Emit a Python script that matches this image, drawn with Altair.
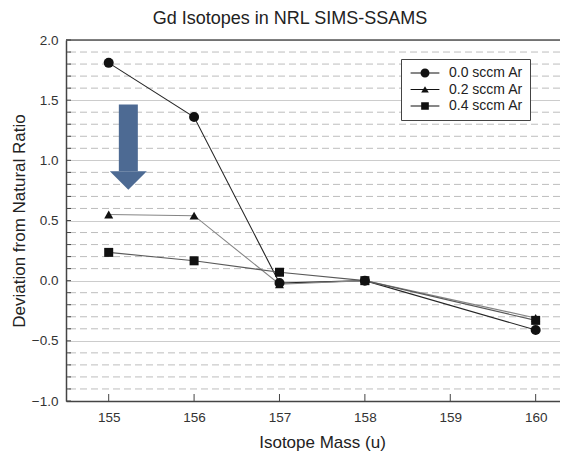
import altair as alt
import pandas as pd

# ---- data ----
masses = [155, 156, 157, 158, 160]
series_names = ["0.0 sccm Ar", "0.2 sccm Ar", "0.4 sccm Ar"]
dev_00 = [1.81, 1.36, -0.02, 0.0, -0.41]
dev_02 = [0.55, 0.54, -0.03, 0.0, -0.31]
dev_04 = [0.235, 0.165, 0.07, 0.0, -0.33]

x_tick_values = [155, 156, 157, 158, 159, 160]
y_major = [-1.0, -0.5, 0.0, 0.5, 1.0, 1.5, 2.0]
y_minor = [-0.9, -0.8, -0.7, -0.6, -0.4, -0.3, -0.2, -0.1,
           0.1, 0.2, 0.3, 0.4, 0.6, 0.7, 0.8, 0.9,
           1.1, 1.2, 1.3, 1.4, 1.6, 1.7, 1.8, 1.9]

# annotation arrow (data coordinates)
arrow_x = [155.23]
arrow_top = [1.463]
arrow_base = [0.909]

line_colors = ["#262626", "#858585", "#595959"]
point_shapes = ["circle", "triangle-up", "square"]
point_sizes = [100, 81, 81]
LINE = "M-3.2,-0.12H3.2V0.12H-3.2Z"
legend_shapes = [
    LINE + "M1,0A1,1,0,1,1,-1,0A1,1,0,1,1,1,0Z",
    LINE + "M0,-0.75L0.85,0.65L-0.85,0.65Z",
    LINE + "M-0.85,-0.85H0.85V0.85H-0.85Z",
]

rows = []
for name, vals in zip(series_names, [dev_00, dev_02, dev_04]):
    for i, (m, v) in enumerate(zip(masses, vals)):
        rows.append({"series": name, "mass": m, "dev": v, "order": i})
df = pd.DataFrame(rows)

minor_df = pd.DataFrame({"dev": y_minor})
ytick_df = pd.DataFrame({"dev": y_major + y_minor})
xtick_df = pd.DataFrame({"mass": x_tick_values})
arrow_df = pd.DataFrame({"mass": arrow_x, "top": arrow_top, "base": arrow_base})
top_df = pd.DataFrame({"dev": [2.0]})

FONT = "Liberation Sans"
W, H = 494, 361

xscale = alt.Scale(domain=[154.5, 160.285], nice=False, zero=False)
yscale = alt.Scale(domain=[-1.0, 2.0], nice=False, zero=False)

xaxis = alt.Axis(values=x_tick_values, format="d", title="Isotope Mass (u)",
                 grid=False, ticks=False, domain=True, domainColor="#444",
                 domainWidth=1.5, labelPadding=9,
                 labelFontSize=13.5, labelFont=FONT, labelColor="#333",
                 titleFont=FONT, titleFontSize=17, titleFontWeight="normal",
                 titleColor="#222", titlePadding=11, titleX=256)
yaxis = alt.Axis(values=y_major, format=".1f", title="Deviation from Natural Ratio",
                 grid=True, gridColor="#cccccc", gridWidth=1,
                 ticks=False, domain=True, domainColor="#444", domainWidth=1.5,
                 labelPadding=8,
                 labelFontSize=13.5, labelFont=FONT, labelColor="#333",
                 titleFont=FONT, titleFontSize=17, titleFontWeight="normal",
                 titleColor="#222", titlePadding=3)

X = alt.X("mass:Q", scale=xscale, axis=xaxis)
Y = alt.Y("dev:Q", scale=yscale, axis=yaxis)

dashed = alt.Chart(minor_df).mark_rule(
    color="#bdbdbd", strokeWidth=1, strokeDash=[7, 4]
).encode(y=Y)

top_border = alt.Chart(top_df).mark_rule(color="#555", strokeWidth=1.5).encode(
    y=Y, x=alt.value(0), x2=alt.value(W)
)

yticks = alt.Chart(ytick_df).mark_rule(color="#444", strokeWidth=1).encode(
    y=Y, x=alt.value(0), x2=alt.value(5)
)
xticks = alt.Chart(xtick_df).mark_rule(color="#444", strokeWidth=1).encode(
    x=X, y=alt.value(H), y2=alt.value(H - 7)
)

shaft = alt.Chart(arrow_df).mark_rule(color="#4d6a93", strokeWidth=19).encode(
    x=X, y=alt.Y("top:Q", scale=yscale, axis=yaxis), y2="base:Q"
)
head = alt.Chart(arrow_df).mark_point(
    shape="M-1,0L1,0L0,1Z", size=1369, filled=True, color="#4d6a93", opacity=1
).encode(x=X, y=alt.Y("base:Q", scale=yscale, axis=yaxis))

line_layers = []
point_layers = []
for name, col, shp, sz in zip(series_names, line_colors, point_shapes, point_sizes):
    sub = df[df["series"] == name]
    line_layers.append(
        alt.Chart(sub).mark_line(strokeWidth=1.1, color=col).encode(x=X, y=Y, order="order:Q")
    )
    point_layers.append(
        alt.Chart(sub).mark_point(filled=True, opacity=1, color="#111", shape=shp, size=sz)
        .encode(x=X, y=Y)
    )

legend_layer = alt.Chart(df).mark_point(opacity=0, filled=True, color="#111").encode(
    x=X, y=Y,
    shape=alt.Shape(
        "series:N",
        scale=alt.Scale(domain=series_names, range=legend_shapes),
        legend=alt.Legend(
            title=None, orient="none", legendX=335, legendY=19,
            symbolOpacity=1, symbolFillColor="#111", symbolStrokeColor="#111",
            symbolStrokeWidth=0, symbolSize=81, symbolOffset=10,
            labelOffset=17, labelFont=FONT, labelFontSize=14, labelColor="#222",
            rowPadding=2.5, padding=7, strokeColor="#444", fillColor="#ffffff",
        ),
    ),
)

chart = alt.layer(
    dashed, top_border, yticks, xticks, shaft, head, *line_layers, *point_layers, legend_layer
).properties(
    width=W, height=H,
    title=alt.TitleParams("Gd Isotopes in NRL SIMS-SSAMS", fontSize=18, font=FONT,
                          fontWeight="normal", color="#222", offset=5, dx=-23,
                          anchor="middle"),
    autosize=alt.AutoSizeParams(type="none"),
    padding={"left": 58, "top": 32, "right": 0, "bottom": 60},
    background="#ffffff",
).configure_view(strokeWidth=0, stroke="transparent")

chart.save("out.html", embed_options={"renderer": "svg", "actions": False})
